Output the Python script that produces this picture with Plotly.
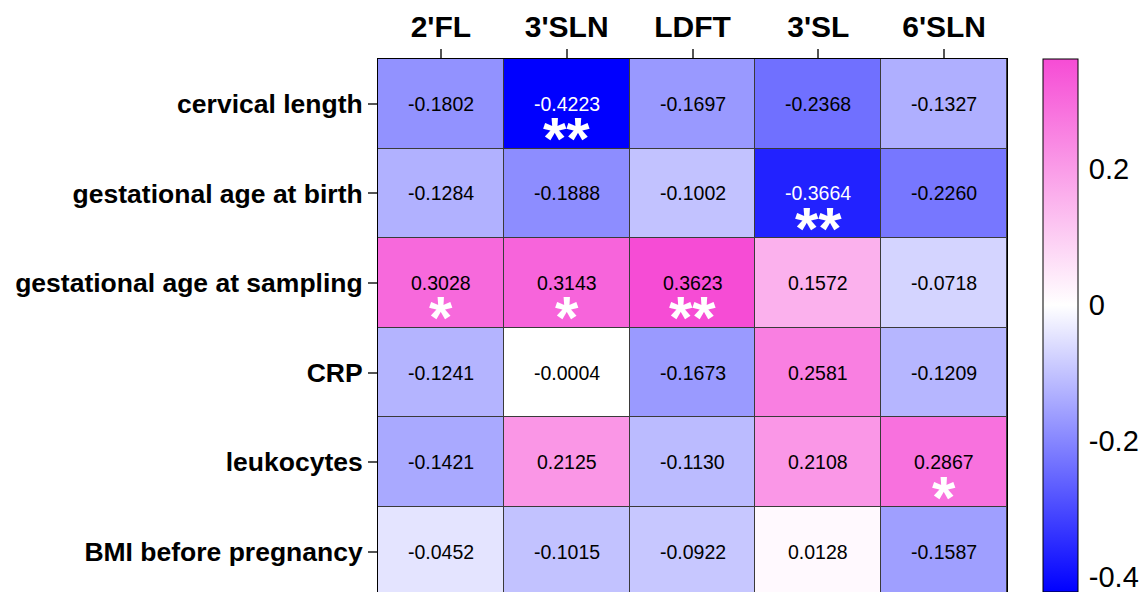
import plotly.graph_objects as go

columns = ["2'FL", "3'SLN", "LDFT", "3'SL", "6'SLN"]
rows = ["cervical length", "gestational age at birth", "gestational age at sampling",
        "CRP", "leukocytes", "BMI before pregnancy"]
values = [
    [-0.1802, -0.4223, -0.1697, -0.2368, -0.1327],
    [-0.1284, -0.1888, -0.1002, -0.3664, -0.2260],
    [0.3028, 0.3143, 0.3623, 0.1572, -0.0718],
    [-0.1241, -0.0004, -0.1673, 0.2581, -0.1209],
    [-0.1421, 0.2125, -0.1130, 0.2108, 0.2867],
    [-0.0452, -0.1015, -0.0922, 0.0128, -0.1587],
]
stars = [
    ["", "**", "", "", ""],
    ["", "", "", "**", ""],
    ["*", "*", "**", "", ""],
    ["", "", "", "", ""],
    ["", "", "", "", "*"],
    ["", "", "", "", ""],
]
cbar_ticks = [-0.4, -0.2, 0, 0.2]
cbar_ticktext = ["-0.4", "-0.2", "0", "0.2"]

zmin = min(min(r) for r in values)
zmax = max(max(r) for r in values)
mid = -zmin / (zmax - zmin)
colorscale = [[0, "#0000FF"], [mid, "#FFFFFF"], [1, "rgb(246,76,213)"]]

FONT = "Liberation Sans, Arial, sans-serif"
W, H = 1147, 592
L, R, T, B = 378, 140, 59, 0
plot_h = H - T - B
row_px = 89.6
y_bottom = -0.5 + plot_h / row_px

fig = go.Figure()
fig.add_trace(go.Heatmap(
    z=values, x=list(range(len(columns))), y=list(range(len(rows))),
    colorscale=colorscale, zmin=zmin, zmax=zmax,
    xgap=1, ygap=1, hoverinfo="skip",
    colorbar=dict(
        x=(1043 - L) / (W - L - R), xanchor="left", xpad=0,
        y=1, yanchor="top", ypad=0, len=1, lenmode="fraction",
        thickness=35, outlinecolor="black", outlinewidth=1,
        tickvals=cbar_ticks, ticktext=cbar_ticktext,
        ticks="outside", ticklen=5, tickcolor="rgba(0,0,0,0)",
        ticklabeloverflow="allow",
        tickfont=dict(family=FONT, size=29, color="black"),
    ),
))

annotations = []
for i, r in enumerate(values):
    for j, v in enumerate(r):
        col = "white" if v < -0.3 else "black"
        annotations.append(dict(x=j, y=i, text=f"{v:.4f}", showarrow=False,
                                font=dict(family=FONT, size=19.5, color=col),
                                xref="x", yref="y"))
        if stars[i][j]:
            annotations.append(dict(x=j, y=i + 0.39, text=f"<b>{stars[i][j]}</b>",
                                    showarrow=False, yanchor="middle",
                                    font=dict(family=FONT, size=60, color="white"),
                                    xref="x", yref="y"))

fig.update_layout(
    width=W, height=H,
    margin=dict(l=L, r=R, t=T, b=B, pad=0),
    paper_bgcolor="white", plot_bgcolor="#3a3a3a",
    annotations=annotations,
    xaxis=dict(side="top", tickvals=list(range(len(columns))), ticktext=[f"<b>{c}</b>" for c in columns],
               tickfont=dict(family=FONT, size=30, color="black"),
               ticks="outside", ticklen=9, tickcolor="#555", tickwidth=1.5,
               range=[-0.5, len(columns) - 0.5], showgrid=False, zeroline=False,
               showline=True, mirror=True, linecolor="black", linewidth=1),
    yaxis=dict(tickvals=list(range(len(rows))), ticktext=[f"<b>{r}</b>" for r in rows],
               tickfont=dict(family=FONT, size=26.5, color="black"),
               ticks="outside", ticklen=9, tickcolor="#555", tickwidth=1.5,
               range=[y_bottom, -0.5], showgrid=False, zeroline=False,
               showline=True, mirror=True, linecolor="black", linewidth=1),
)

fig.write_html("out.html")
